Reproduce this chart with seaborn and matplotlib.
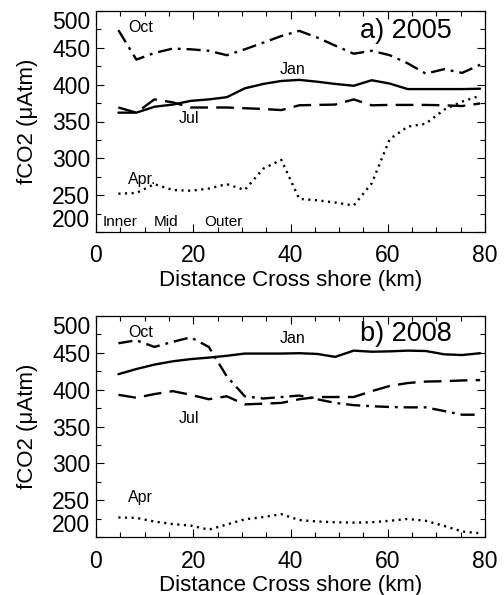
import matplotlib
matplotlib.use("Agg")
import matplotlib.pyplot as plt
import numpy as np
import pandas as pd
import seaborn as sns

# Cross-shore stations (km)
distance = [4.6, 8.3, 12.0, 15.8, 19.5, 23.2, 26.9, 30.6, 34.4, 38.1, 41.8,
            45.5, 49.2, 53.0, 56.7, 60.4, 64.1, 67.8, 71.6, 75.3, 79.0]

# 2005 transect, fCO2 (uAtm)
jan_2005 = [362, 362, 370, 373, 378, 380, 383, 395, 401, 405, 406.5,
            404, 401, 398.5, 406, 401.5, 394, 394, 394, 394, 394.5]
apr_2005 = [252, 253, 265, 257, 256, 259, 265, 257, 286, 298, 245,
            243, 240, 236, 266, 326, 343, 347, 366, 377, 385]
jul_2005 = [369, 362, 380, 376, 369, 369, 369, 368, 367, 365.5, 372,
            372.5, 373, 380, 372, 372.5, 372.5, 372.5, 372, 371, 374.5]
oct_2005 = [474, 434, 443, 449, 448, 446, 440, 448, 457, 466, 473,
            464, 453, 442, 446, 440, 429, 415, 421, 416, 427]

# 2008 transect, fCO2 (uAtm)
jan_2008 = [421, 428, 434, 438.5, 441.5, 443.5, 446, 449, 449, 449, 449.5,
            448.5, 444.5, 453, 451.5, 452, 453, 452.5, 448, 447, 449.5]
apr_2008 = [226.5, 226, 221, 217.5, 215.5, 210, 217, 224, 227, 231, 223,
            221, 220, 219.5, 220, 222, 224.5, 222, 215, 207.5, 205]
jul_2008 = [393, 389, 394, 398, 393, 387, 391, 380, 381, 382, 387,
            390, 390, 390, 398, 405, 409, 411, 411.5, 412.5, 413]
oct_2008 = [463, 467, 458, 465, 471, 458, 418, 391, 388, 390, 392,
            387, 382, 379, 377.5, 376.5, 376, 376, 371, 366, 366]

months = ["Jan", "Apr", "Jul", "Oct"]
panel_titles = ["a) 2005", "b) 2008"]
shelf_zones = ["Inner", "Mid", "Outer"]

sns.set_style("ticks")
plt.rcParams["font.family"] = ["Liberation Sans", "DejaVu Sans"]
plt.rcParams["mathtext.default"] = "regular"
for key in ["text.color", "axes.labelcolor", "xtick.color", "ytick.color", "axes.edgecolor"]:
    plt.rcParams[key] = "black"


def long_frame(series):
    rows = []
    for month, values in zip(months, series):
        for d, v in zip(distance, values):
            rows.append({"distance": d, "fco2": v, "month": month})
    return pd.DataFrame(rows)


line_dashes = {"Jan": "", "Apr": (0.9, 1.9), "Jul": (7.5, 3.5), "Oct": (6, 2.5, 1.2, 2.5)}

fig = plt.figure(figsize=(5.04, 5.95), dpi=100)
ax_a = fig.add_axes([96 / 504, 1 - 232 / 595, 389 / 504, 221 / 595])
ax_b = fig.add_axes([96 / 504, 1 - 537 / 595, 389 / 504, 221 / 595])

panels = [
    (ax_a, [jan_2005, apr_2005, jul_2005, oct_2005],
     {"Oct": (6.6, 478), "Jan": (37.8, 420), "Jul": (17.1, 354), "Apr": (6.6, 271)},
     "Apr.", 473),
    (ax_b, [jan_2008, apr_2008, jul_2008, oct_2008],
     {"Oct": (6.6, 478), "Jan": (37.8, 469), "Jul": (17.1, 361), "Apr": (6.6, 253)},
     "Apr", 475),
]

for (ax, series, label_pos, apr_text, title_y), title in zip(panels, panel_titles):
    df = long_frame(series)
    sns.lineplot(data=df, x="distance", y="fco2", style="month", dashes=line_dashes,
                 color="black", linewidth=1.7, legend=False, ax=ax,
                 estimator=None, sort=False)
    ax.set_xlim(0, 80)
    ax.set_ylim(200, 500)
    ax.set_xticks([0, 20, 40, 60, 80])
    ax.set_xticks(np.arange(0, 81, 5), minor=True)
    ax.set_yticks([200, 250, 300, 350, 400, 450, 500])
    ax.set_yticks(np.arange(200, 501, 25), minor=True)
    ax.tick_params(axis="both", which="major", direction="in", length=6, width=0.8,
                   top=True, right=True, labelsize=16.5, color="black", labelcolor="black")
    ax.tick_params(axis="both", which="minor", direction="in", length=3.5, width=0.8,
                   top=True, right=True, color="black")
    ax.tick_params(axis="x", which="major", pad=9)
    ax.tick_params(axis="y", which="major", pad=4)
    for sp in ax.spines.values():
        sp.set_linewidth(0.9)
        sp.set_color("black")
    ax.set_xlabel("Distance Cross shore (km)", fontsize=16, labelpad=2)
    ax.set_ylabel("fCO2 (μAtm)", fontsize=16, labelpad=10)
    yticks = ax.yaxis.get_major_ticks()
    yticks[0].label1.set_verticalalignment("bottom")
    yticks[-1].label1.set_verticalalignment("top")

    ax.text(73.2, title_y, title, fontsize=19.5, ha="right", va="center")
    for month in months:
        x, y = label_pos[month]
        text = apr_text if month == "Apr" else month
        ax.text(x, y, text, fontsize=11.5, ha="left", va="center")

for zone, x in zip(shelf_zones, [1.4, 11.9, 22.2]):
    ax_a.text(x, 214, zone, fontsize=11, ha="left", va="center")

fig.savefig("out.png", dpi=100)
